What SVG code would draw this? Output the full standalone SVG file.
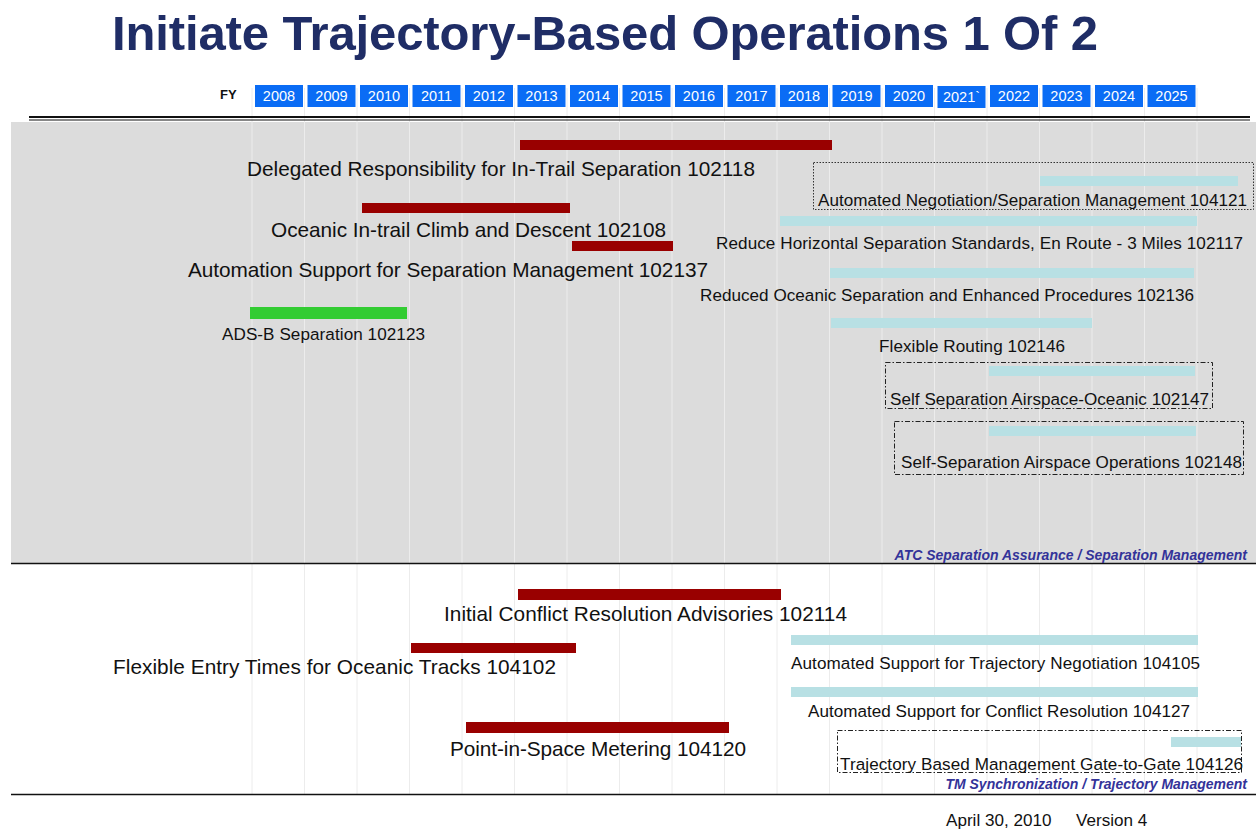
<svg xmlns="http://www.w3.org/2000/svg" width="1256" height="829" viewBox="0 0 1256 829">
<defs>
<style>
.t{font-family:"Liberation Sans",Arial,sans-serif;fill:#111}
.big{font-size:20.8px}
.sm{font-size:17.1px}
.yr{font-family:"Liberation Sans",Arial,sans-serif;font-size:14.5px;fill:#fff;text-anchor:middle}
.ybox{fill:#0a6cf5}
.red{fill:#990000}
.blue{fill:#b8e0e4}
.green{fill:#33cc33}
.grid{stroke:#ececec;stroke-width:1}
.dot{fill:none;stroke:#333;stroke-width:1;stroke-dasharray:1.5 1.5}
.dd{fill:none;stroke:#222;stroke-width:1;stroke-dasharray:5 2 1.5 2}
.sec{font-family:"Liberation Sans",Arial,sans-serif;font-size:14px;font-weight:bold;font-style:italic;fill:#333399;text-anchor:end}
</style>
</defs>
<rect width="1256" height="829" fill="#fff"/>
<text x="112" y="50" font-family="Liberation Sans,Arial,sans-serif" font-size="49" font-weight="bold" fill="#1f2d66" textLength="986">Initiate Trajectory-Based Operations 1 Of 2</text>
<rect x="11" y="122" width="1245" height="441" fill="#dcdcdc"/>
<g id="grid">
<line class="grid" x1="252" y1="88" x2="252" y2="794"/>
<line class="grid" x1="304.5" y1="88" x2="304.5" y2="794"/>
<line class="grid" x1="357" y1="88" x2="357" y2="794"/>
<line class="grid" x1="409.5" y1="88" x2="409.5" y2="794"/>
<line class="grid" x1="462" y1="88" x2="462" y2="794"/>
<line class="grid" x1="514.5" y1="88" x2="514.5" y2="794"/>
<line class="grid" x1="567" y1="88" x2="567" y2="794"/>
<line class="grid" x1="619.5" y1="88" x2="619.5" y2="794"/>
<line class="grid" x1="672" y1="88" x2="672" y2="794"/>
<line class="grid" x1="724.5" y1="88" x2="724.5" y2="794"/>
<line class="grid" x1="777" y1="88" x2="777" y2="794"/>
<line class="grid" x1="829.5" y1="88" x2="829.5" y2="794"/>
<line class="grid" x1="882" y1="88" x2="882" y2="794"/>
<line class="grid" x1="934.5" y1="88" x2="934.5" y2="794"/>
<line class="grid" x1="987" y1="88" x2="987" y2="794"/>
<line class="grid" x1="1039.5" y1="88" x2="1039.5" y2="794"/>
<line class="grid" x1="1092" y1="88" x2="1092" y2="794"/>
<line class="grid" x1="1144.5" y1="88" x2="1144.5" y2="794"/>
<line class="grid" x1="1197" y1="88" x2="1197" y2="794"/>
</g>
<g id="header">
<text x="220" y="99" font-family="Liberation Sans,Arial,sans-serif" font-size="13" font-weight="bold" fill="#111">FY</text>
<rect class="ybox" x="255" y="85" width="48" height="22"/><text class="yr" x="279" y="101">2008</text>
<rect class="ybox" x="307.5" y="85" width="48" height="22"/><text class="yr" x="331.5" y="101">2009</text>
<rect class="ybox" x="360" y="85" width="48" height="22"/><text class="yr" x="384" y="101">2010</text>
<rect class="ybox" x="412.5" y="85" width="48" height="22"/><text class="yr" x="436.5" y="101">2011</text>
<rect class="ybox" x="465" y="85" width="48" height="22"/><text class="yr" x="489" y="101">2012</text>
<rect class="ybox" x="517.5" y="85" width="48" height="22"/><text class="yr" x="541.5" y="101">2013</text>
<rect class="ybox" x="570" y="85" width="48" height="22"/><text class="yr" x="594" y="101">2014</text>
<rect class="ybox" x="622.5" y="85" width="48" height="22"/><text class="yr" x="646.5" y="101">2015</text>
<rect class="ybox" x="675" y="85" width="48" height="22"/><text class="yr" x="699" y="101">2016</text>
<rect class="ybox" x="727.5" y="85" width="48" height="22"/><text class="yr" x="751.5" y="101">2017</text>
<rect class="ybox" x="780" y="85" width="48" height="22"/><text class="yr" x="804" y="101">2018</text>
<rect class="ybox" x="832.5" y="85" width="48" height="22"/><text class="yr" x="856.5" y="101">2019</text>
<rect class="ybox" x="885" y="85" width="48" height="22"/><text class="yr" x="909" y="101">2020</text>
<rect class="ybox" x="937.5" y="86" width="48" height="22"/><text class="yr" x="961.5" y="102">2021`</text>
<rect class="ybox" x="990" y="85" width="48" height="22"/><text class="yr" x="1014" y="101">2022</text>
<rect class="ybox" x="1042.5" y="85" width="48" height="22"/><text class="yr" x="1066.5" y="101">2023</text>
<rect class="ybox" x="1095" y="85" width="48" height="22"/><text class="yr" x="1119" y="101">2024</text>
<rect class="ybox" x="1147.5" y="85" width="48" height="22"/><text class="yr" x="1171.5" y="101">2025</text>
</g>
<g id="rules">
<line x1="29" y1="117" x2="1250" y2="117" stroke="#111" stroke-width="2"/>
<line x1="29" y1="120" x2="1250" y2="120" stroke="#111" stroke-width="1"/>
<line x1="11" y1="563.5" x2="1256" y2="563.5" stroke="#111" stroke-width="1.5"/>
<line x1="11" y1="794.5" x2="1256" y2="794.5" stroke="#111" stroke-width="1.5"/>
</g>
<g id="n102118"><rect class="red" x="520" y="140" width="312" height="10"/><text class="t big" x="247" y="176" textLength="508">Delegated Responsibility for In-Trail Separation 102118</text></g>
<g id="n104121"><rect class="dot" x="813.5" y="162.5" width="440" height="47"/><rect class="blue" x="1040" y="176" width="198" height="10"/><text class="t sm" x="818" y="206" textLength="429">Automated Negotiation/Separation Management 104121</text></g>
<g id="n102108"><rect class="red" x="362" y="203" width="208" height="10"/><text class="t big" x="271" y="237" textLength="395">Oceanic In-trail Climb and Descent 102108</text></g>
<g id="n102117"><rect class="blue" x="780" y="216" width="417" height="10"/><text class="t sm" x="716" y="249" textLength="527">Reduce Horizontal Separation Standards, En Route - 3 Miles 102117</text></g>
<g id="n102137"><rect class="red" x="572" y="241" width="101" height="10"/><text class="t big" x="188" y="277" textLength="520">Automation Support for Separation Management 102137</text></g>
<g id="n102136"><rect class="blue" x="830" y="268" width="364" height="10"/><text class="t sm" x="700" y="301" textLength="494">Reduced Oceanic Separation and Enhanced Procedures 102136</text></g>
<g id="n102123"><rect class="green" x="250" y="307" width="157" height="12"/><text class="t sm" x="222" y="340" textLength="203">ADS-B Separation 102123</text></g>
<g id="n102146"><rect class="blue" x="831" y="318" width="261" height="10"/><text class="t sm" x="879" y="352" textLength="186">Flexible Routing 102146</text></g>
<g id="n102147"><rect class="dd" x="885.5" y="362.5" width="327" height="46"/><rect class="blue" x="989" y="366" width="206" height="10"/><text class="t sm" x="890" y="405" textLength="319">Self Separation Airspace-Oceanic 102147</text></g>
<g id="n102148"><rect class="dd" x="894.5" y="421.5" width="349" height="53"/><rect class="blue" x="989" y="426" width="207" height="10"/><text class="t sm" x="901" y="468" textLength="341">Self-Separation Airspace Operations 102148</text></g>
<text class="sec" x="1247" y="560">ATC Separation Assurance / Separation Management</text>
<g id="n102114"><rect class="red" x="518" y="589" width="263" height="11"/><text class="t big" x="444" y="621" textLength="403">Initial Conflict Resolution Advisories 102114</text></g>
<g id="n104102"><rect class="red" x="411" y="643" width="165" height="10"/><text class="t big" x="113" y="674" textLength="443">Flexible Entry Times for Oceanic Tracks 104102</text></g>
<g id="n104105"><rect class="blue" x="791" y="635" width="407" height="10"/><text class="t sm" x="791" y="669" textLength="409">Automated Support for Trajectory Negotiation 104105</text></g>
<g id="n104127"><rect class="blue" x="791" y="687" width="407" height="10"/><text class="t sm" x="808" y="717" textLength="382">Automated Support for Conflict Resolution 104127</text></g>
<g id="n104120"><rect class="red" x="466" y="722" width="263" height="11"/><text class="t big" x="450" y="756" textLength="296">Point-in-Space Metering 104120</text></g>
<g id="n104126"><rect class="dd" x="837.5" y="730.5" width="404" height="42"/><rect class="blue" x="1171" y="737" width="70" height="10"/><text class="t sm" x="840" y="770" textLength="403">Trajectory Based Management Gate-to-Gate 104126</text></g>
<text class="sec" x="1247" y="789">TM Synchronization / Trajectory Management</text>
<text class="t sm" x="946" y="826">April 30, 2010<tspan x="1076">Version 4</tspan></text>
</svg>
